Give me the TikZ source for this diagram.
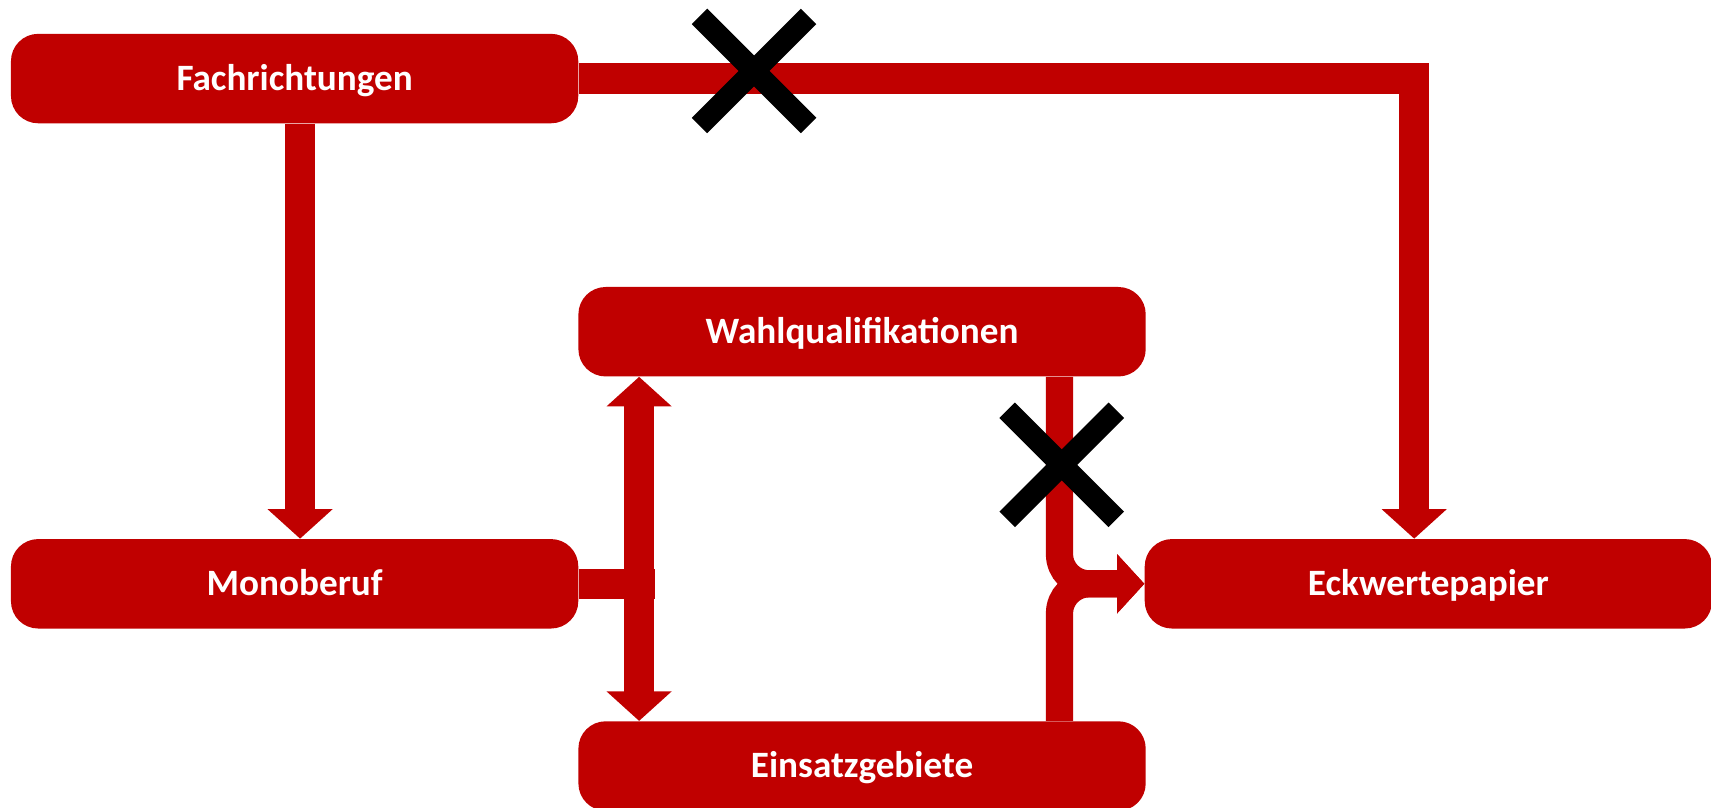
\documentclass[tikz,border=0pt]{standalone}
\usepackage{fontspec}
\setmainfont{Carlito}
\usetikzlibrary{arrows.meta,calc}
\definecolor{dred}{RGB}{192,0,0}
\begin{document}
\begin{tikzpicture}[x=0.02cm,y=-0.02cm,
  box/.style={fill=dred, rounded corners=0.5cm, minimum width=10.4cm, minimum height=1.64cm,
    text=white, font=\fontsize{19.4}{22}\selectfont\bfseries, inner sep=0pt,
    text height=12.4pt, text depth=0pt},
  conn/.style={draw=dred, line width=0.56cm, line cap=butt, line join=miter},
  connb/.style={draw=dred, line width=0.5cm, line cap=butt},
  bigtip/.style={-{Triangle[length=0.54cm, width=1.16cm]}},
  smalltip/.style={-{Triangle[length=0.5cm, width=1.06cm]}},
  xline/.style={draw=black, line width=0.4cm, line cap=butt}]
\useasboundingbox (0,0) rectangle (1568,740);
\node[box] (F) at (270,72) {Fachrichtungen};
\node[box] (M) at (270,535) {Monoberuf};
\node[box] (W) at (790,304) {Wahlqualifikationen};
\node[box] (E) at (790,702) {Einsatzgebiete};
\node[box] (K) at (1309,535) {Eckwertepapier};
\coordinate (mj) at ([xshift=1.4cm]M.east);
% connectors
\draw[conn, bigtip] (F.east) -| ([xshift=-0.26cm]K.north);
\draw[conn, bigtip] ([xshift=0.1cm]F.south) -- ([xshift=0.1cm]M.north);
\draw[conn] (M.east) -- (mj);
\draw[conn, {Triangle[length=0.54cm, width=1.16cm]}-{Triangle[length=0.54cm, width=1.16cm]}]
  ([xshift=1.12cm]W.south west) -- ([xshift=1.12cm]E.north west);
\draw[connb, rounded corners=0.54cm, smalltip] ([xshift=3.62cm]W.south) |- (K.west);
\draw[connb, rounded corners=0.54cm, smalltip] ([xshift=3.62cm]E.north) |- (K.west);
% crosses
\coordinate (x1) at (691,65);
\coordinate (x2) at (973,426);
\foreach \c in {x1,x2}{
  \draw[xline] ($(\c)+(-50,-50)$) -- ($(\c)+(50,50)$);
  \draw[xline] ($(\c)+(50,-50)$) -- ($(\c)+(-50,50)$);
}
\end{tikzpicture}
\end{document}
